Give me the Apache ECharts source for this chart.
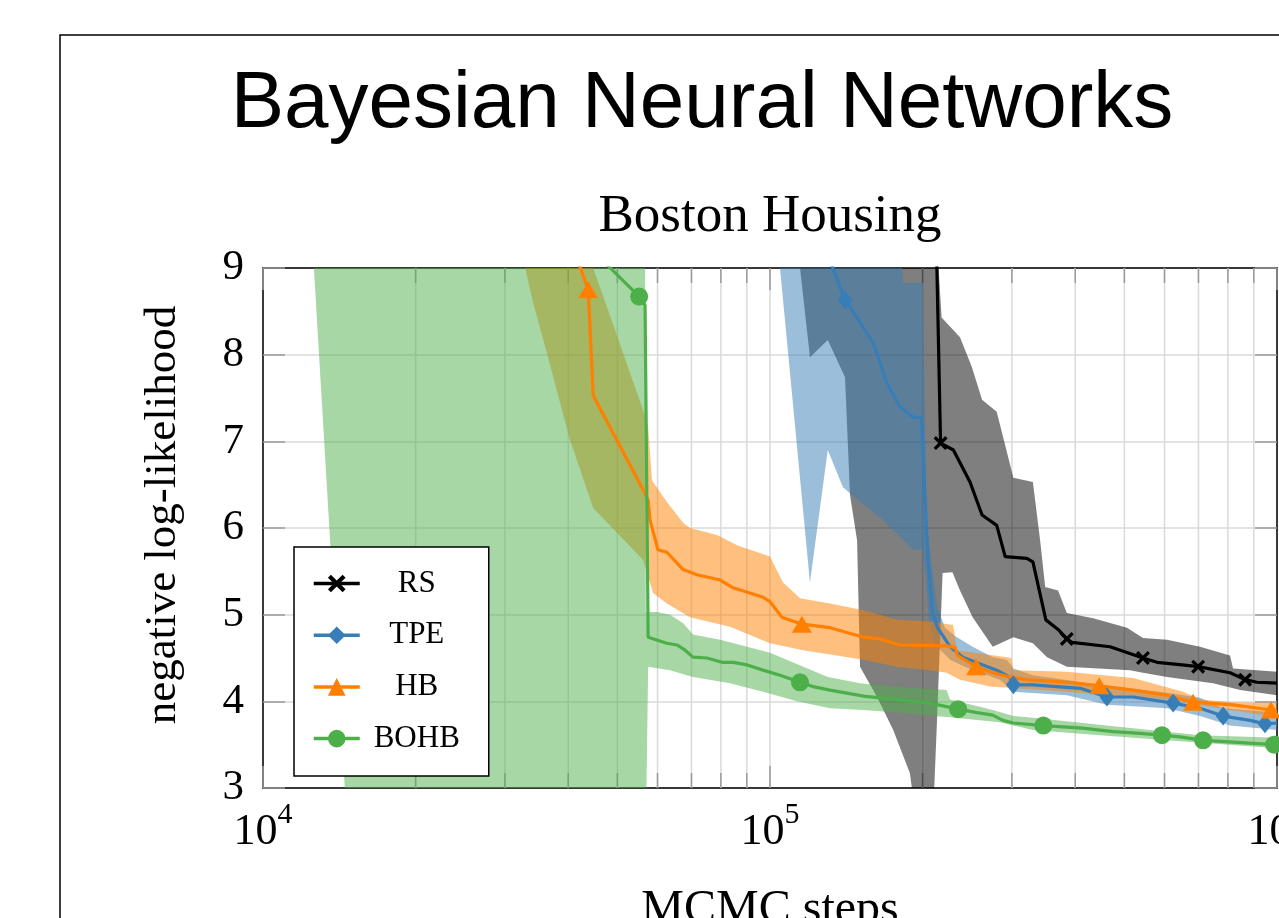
<!DOCTYPE html>
<html>
<head>
<meta charset="utf-8">
<script src="https://cdn.jsdelivr.net/npm/echarts@6/dist/echarts.min.js"></script>
<style>html,body{margin:0;padding:0;background:#fff}#c{width:1279px;height:918px}</style>
</head>
<body>
<div id="c"></div>
<script>
// ---------- data (x = MCMC steps, y = negative log-likelihood) ----------
const seriesNames = ['RS', 'TPE', 'HB', 'BOHB'];
const yTicks = [3, 4, 5, 6, 7, 8, 9];
const minorTicks = [2e4, 3e4, 4e4, 5e4, 6e4, 7e4, 8e4, 9e4, 2e5, 3e5, 4e5, 5e5, 6e5, 7e5, 8e5, 9e5];

const rsLine = [[2.125e5,9.5],[2.17e5,6.98],[2.30e5,6.90],[2.48e5,6.53],[2.62e5,6.15],[2.80e5,6.03],[2.91e5,5.67],[3.21e5,5.65],[3.30e5,5.61],[3.50e5,4.94],[3.70e5,4.83],[3.85e5,4.72],[3.94e5,4.68],[4.685e5,4.63],[5.44e5,4.50],[5.80e5,4.45],[6.50e5,4.42],[6.99e5,4.40],[8.08e5,4.33],[8.65e5,4.25],[9.13e5,4.22],[1e6,4.21]];
const rsMarkers = [1, 11, 14, 17, 19];
const rsUpper = [[1.146e5,9.3],[2.135e5,9.3],[2.18e5,8.43],[2.37e5,8.20],[2.50e5,7.86],[2.62e5,7.48],[2.80e5,7.34],[3.02e5,6.58],[3.30e5,6.53],[3.41e5,5.86],[3.49e5,5.32],[3.70e5,5.28],[3.85e5,5.02],[4.34e5,4.96],[5.06e5,4.85],[5.44e5,4.73],[6.07e5,4.71],[7.05e5,4.63],[8.08e5,4.53],[8.19e5,4.38],[1e6,4.34]];
const rsLower = [[1.146e5,9.0],[1.199e5,7.97],[1.30e5,8.17],[1.406e5,7.74],[1.438e5,6.38],[1.485e5,5.86],[1.505e5,4.40],[1.626e5,4.05],[1.75e5,3.67],[1.888e5,3.17],[1.93e5,2.75],[2.10e5,2.75],[2.135e5,3.78],[2.19e5,5.48],[2.29e5,5.49],[2.37e5,5.28],[2.51e5,4.97],[2.75e5,4.63],[3.02e5,4.74],[3.30e5,4.67],[3.52e5,4.51],[3.85e5,4.40],[5.13e5,4.36],[5.44e5,4.33],[6.07e5,4.28],[7.48e5,4.21],[8.46e5,4.13],[1e6,4.07]];

const tpeLine = [[1.32e5,9.05],[1.406e5,8.63],[1.438e5,8.55],[1.60e5,8.13],[1.70e5,7.67],[1.805e5,7.40],[1.915e5,7.28],[1.99e5,7.27],[2.02e5,6.40],[2.05e5,5.63],[2.09e5,5.05],[2.135e5,4.86],[2.265e5,4.63],[2.40e5,4.51],[2.63e5,4.42],[2.80e5,4.36],[2.97e5,4.28],[3.02e5,4.19],[3.30e5,4.19],[4.09e5,4.15],[4.62e5,4.05],[5.20e5,4.05],[6.24e5,3.98],[7.05e5,3.92],[7.83e5,3.83],[8.85e5,3.78],[9.47e5,3.74],[1e6,3.75]];
const tpeMarkers = [1, 17, 20, 22, 24, 26];
const tpeUpper = [[1.037e5,9.3],[1.805e5,9.3],[1.83e5,8.83],[2.00e5,8.83],[2.04e5,6.0],[2.10e5,5.4],[2.135e5,5.1],[2.214e5,4.85],[2.32e5,4.75],[2.51e5,4.63],[2.75e5,4.51],[2.93e5,4.48],[3.02e5,4.38],[3.30e5,4.30],[4.48e5,4.19],[6.07e5,4.10],[7.05e5,4.04],[7.83e5,3.92],[1e6,3.87]];
const tpeLower = [[1.0465e5,9.0],[1.199e5,5.37],[1.30e5,6.90],[1.393e5,6.47],[1.438e5,6.40],[1.553e5,6.24],[1.67e5,6.09],[1.805e5,5.90],[1.915e5,5.75],[2.00e5,5.75],[2.03e5,5.4],[2.06e5,4.9],[2.12e5,4.65],[2.265e5,4.48],[2.42e5,4.40],[2.84e5,4.25],[3.02e5,4.11],[3.85e5,4.07],[4.62e5,3.96],[6.07e5,3.92],[7.05e5,3.83],[8.08e5,3.72],[1e6,3.67]];

const hbLine = [[4.05e4,9.3],[4.38e4,8.75],[4.48e4,7.53],[5.62e4,6.44],[5.75e4,6.32],[5.80e4,6.09],[6.01e4,5.75],[6.26e4,5.72],[6.74e4,5.52],[7.18e4,5.46],[7.97e4,5.40],[8.46e4,5.31],[9.69e4,5.20],[1.0e5,5.15],[1.056e5,4.97],[1.156e5,4.89],[1.313e5,4.85],[1.53e5,4.74],[1.648e5,4.72],[1.805e5,4.65],[2.23e5,4.64],[2.32e5,4.62],[2.34e5,4.53],[2.55e5,4.40],[2.75e5,4.33],[2.97e5,4.28],[3.21e5,4.25],[3.85e5,4.22],[4.46e5,4.18],[5.20e5,4.13],[6.07e5,4.07],[6.83e5,3.99],[8.19e5,3.96],[9.73e5,3.90],[1e6,3.88]];
const hbMarkers = [1, 15, 23, 28, 31, 33];
const hbUpper = [[3.20e4,9.3],[4.30e4,9.3],[5.62e4,7.36],[5.75e4,7.17],[5.85e4,6.55],[6.26e4,6.30],[6.74e4,6.06],[6.95e4,6.00],[7.86e4,5.92],[8.61e4,5.80],[1.0e5,5.67],[1.061e5,5.37],[1.146e5,5.19],[1.313e5,5.13],[1.53e5,5.05],[1.78e5,4.94],[2.068e5,4.92],[2.296e5,4.88],[2.34e5,4.59],[2.93e5,4.51],[2.99e5,4.50],[3.02e5,4.36],[3.85e5,4.34],[5.20e5,4.27],[6.53e5,4.11],[7.05e5,4.02],[8.19e5,3.99],[1e6,3.98]];
const hbLower = [[3.29e4,9.0],[3.41e4,8.60],[3.63e4,8.02],[4.03e4,7.02],[4.48e4,6.23],[5.62e4,5.63],[5.88e4,5.25],[6.26e4,5.13],[6.95e4,4.97],[8.34e4,4.86],[1.0e5,4.67],[1.162e5,4.59],[1.53e5,4.48],[1.78e5,4.40],[2.068e5,4.36],[2.23e5,4.33],[2.37e5,4.25],[2.716e5,4.17],[3.85e5,4.11],[6.07e5,4.02],[8.08e5,3.90],[1e6,3.82]];

const bohbLine = [[4.30e4,9.3],[5.52e4,8.67],[5.67e4,8.57],[5.75e4,4.74],[6.26e4,4.67],[6.56e4,4.65],[6.80e4,4.59],[7.05e4,4.51],[7.51e4,4.50],[8.04e4,4.45],[8.46e4,4.45],[9.01e4,4.42],[9.69e4,4.36],[1.0465e5,4.30],[1.146e5,4.22],[1.216e5,4.17],[1.313e5,4.13],[1.53e5,4.06],[1.78e5,4.02],[2.068e5,3.98],[2.35e5,3.91],[2.56e5,3.87],[2.75e5,3.84],[2.88e5,3.78],[3.02e5,3.75],[3.46e5,3.72],[4.13e5,3.69],[4.75e5,3.65],[5.37e5,3.63],[5.93e5,3.61],[6.44e5,3.59],[7.15e5,3.55],[8.19e5,3.53],[9.87e5,3.50],[1e6,3.50]];
const bohbMarkers = [1, 14, 20, 25, 29, 31, 33];
const bohbUpper = [[1.249e4,9.3],[5.67e4,9.3],[5.69e4,5.03],[5.99e4,5.03],[6.35e4,5.00],[6.74e4,4.90],[7.05e4,4.77],[7.97e4,4.71],[9.01e4,4.63],[1.0e5,4.56],[1.12e5,4.44],[1.30e5,4.28],[1.505e5,4.21],[1.75e5,4.17],[2.23e5,4.13],[2.265e5,4.02],[2.75e5,3.90],[3.02e5,3.83],[3.30e5,3.81],[4.14e5,3.75],[5.20e5,3.69],[7.05e5,3.61],[1e6,3.58]];
const bohbLower = [[1.26e4,9.0],[1.45e4,3.0],[1.47e4,2.5],[5.69e4,2.5],[5.75e4,4.40],[6.35e4,4.36],[7.05e4,4.28],[8.34e4,4.21],[9.69e4,4.11],[1.13e5,4.00],[1.313e5,3.92],[1.53e5,3.90],[1.78e5,3.87],[2.23e5,3.82],[2.84e5,3.76],[3.30e5,3.67],[4.48e5,3.61],[6.07e5,3.55],[1e6,3.46]];

// ---------- styling ----------
const SERIF = '"Liberation Serif", "Times New Roman", serif';
const SANS = '"Liberation Sans", Arial, sans-serif';
const GRID = '#dadada';
const TICK = '#9a9a9a';
const crossPath = 'path://M0,2 L2,0 L6,4 L10,0 L12,2 L8,6 L12,10 L10,12 L6,8 L2,12 L0,10 L4,6 Z';

function bandSeries(name, upper, lower, color) {
  const poly = upper.concat(lower.slice().reverse());
  return {
    type: 'custom', name: name + ' band', z: 2, clip: true, silent: true,
    data: [poly[0]],
    renderItem: function (params, api) {
      return {
        type: 'polygon',
        shape: { points: poly.map(function (p) { return api.coord(p); }) },
        style: { fill: color }
      };
    }
  };
}

function lineSeries(name, pts, marks, color, symbol, size) {
  return {
    type: 'line', name: name, z: 3, clip: true,
    symbol: symbol, symbolSize: size, showSymbol: true,
    lineStyle: { color: color, width: 3.2 },
    itemStyle: { color: color, opacity: 1 },
    emphasis: { disabled: true },
    data: pts.map(function (p, i) {
      return marks.indexOf(i) >= 0 ? { value: p } : { value: p, symbol: 'none' };
    })
  };
}

const minorGrid = {
  type: 'custom', name: 'minor', z: 1, silent: true,
  data: minorTicks.map(function (v) { return [v, yTicks[0]]; }),
  renderItem: function (params, api) {
    const x = api.value(0);
    const b = api.coord([x, yTicks[0]]);
    const t = api.coord([x, yTicks[yTicks.length - 1]]);
    return {
      type: 'group', children: [
        { type: 'line', shape: { x1: b[0], y1: t[1], x2: b[0], y2: b[1] }, style: { stroke: GRID, lineWidth: 1.5 } },
        { type: 'line', shape: { x1: b[0], y1: b[1], x2: b[0], y2: b[1] - 15 }, style: { stroke: TICK, lineWidth: 1.5 } },
        { type: 'line', shape: { x1: b[0], y1: t[1], x2: b[0], y2: t[1] + 15 }, style: { stroke: TICK, lineWidth: 1.5 } }
      ]
    };
  }
};

const chart = echarts.init(document.getElementById('c'), null, { renderer: 'canvas' });

const axisLine = { show: true, lineStyle: { color: '#000', width: 1.5 } };
const majorTick = { show: true, inside: true, length: 22, lineStyle: { color: TICK, width: 1.5 } };

chart.setOption({
  animation: false,
  backgroundColor: '#fff',
  textStyle: { fontFamily: SERIF },
  grid: { left: 263, top: 268, right: 2, bottom: 130, containLabel: false, outerBoundsMode: 'none' },
  xAxis: [
    {
      type: 'log', logBase: 10, min: 1e4, max: 1e6, position: 'bottom',
      axisLine: axisLine, axisTick: majorTick,
      splitLine: { show: true, lineStyle: { color: GRID, width: 1.5 } },
      minorTick: { show: false }, minorSplitLine: { show: false },
      name: 'MCMC steps', nameLocation: 'middle', nameGap: 98,
      nameTextStyle: { fontFamily: SERIF, fontSize: 48, color: '#000' },
      axisLabel: {
        margin: 12, color: '#000',
        formatter: function (v) { return '{b|10}{s|' + Math.round(Math.log10(v)) + '}'; },
        rich: {
          b: { fontFamily: SERIF, fontSize: 44, lineHeight: 54, verticalAlign: 'bottom', color: '#000' },
          s: { fontFamily: SERIF, fontSize: 30, lineHeight: 26, verticalAlign: 'top', color: '#000' }
        }
      }
    },
    {
      type: 'log', logBase: 10, min: 1e4, max: 1e6, position: 'top',
      axisLine: axisLine, axisTick: majorTick, axisLabel: { show: false }, splitLine: { show: false }
    }
  ],
  yAxis: [
    {
      type: 'value', min: yTicks[0], max: yTicks[yTicks.length - 1], interval: 1, position: 'left',
      axisLine: axisLine, axisTick: majorTick,
      splitLine: { show: true, lineStyle: { color: GRID, width: 1.5 } },
      axisLabel: { margin: 19, color: '#000', fontFamily: SERIF, fontSize: 43 }
    },
    {
      type: 'value', min: yTicks[0], max: yTicks[yTicks.length - 1], interval: 1, position: 'right',
      axisLine: axisLine, axisTick: majorTick, axisLabel: { show: false }, splitLine: { show: false }
    }
  ],
  legend: {
    data: seriesNames, orient: 'vertical', left: 294, top: 547, z: 10,
    padding: [21, 20, 22, 18], itemWidth: 46, itemHeight: 22, itemGap: 20.7,
    backgroundColor: '#fff', borderColor: '#000', borderWidth: 1.5, borderRadius: 0,
    selectedMode: false,
    lineStyle: { width: 3.5 },
    formatter: function (n) { return '{t|' + n + '}'; },
    textStyle: {
      color: '#000', fontFamily: SERIF, fontSize: 31,
      rich: { t: { width: 104, align: 'center', lineHeight: 30, fontFamily: SERIF, fontSize: 31, color: '#000' } }
    }
  },
  graphic: [
    { type: 'rect', silent: true, z: 0, shape: { x: 60, y: 35, width: 1400, height: 1100 }, style: { fill: 'none', stroke: '#000', lineWidth: 1.5 } },
    { type: 'text', silent: true, x: 702, y: 105, style: { text: 'Bayesian Neural Networks', fontFamily: SANS, fontSize: 80, fill: '#000', align: 'center', verticalAlign: 'middle' } },
    { type: 'text', silent: true, x: 770, y: 217, style: { text: 'Boston Housing', fontFamily: SERIF, fontSize: 53, fill: '#000', align: 'center', verticalAlign: 'middle' } },
    { type: 'text', silent: true, x: 163, y: 515, rotation: Math.PI / 2, style: { text: 'negative log-likelihood', fontFamily: SERIF, fontSize: 45, fill: '#000', align: 'center', verticalAlign: 'middle' } }
  ],
  series: [
    minorGrid,
    bandSeries('RS', rsUpper, rsLower, 'rgba(0,0,0,0.5)'),
    bandSeries('TPE', tpeUpper, tpeLower, 'rgba(55,126,184,0.5)'),
    bandSeries('HB', hbUpper, hbLower, 'rgba(255,127,0,0.5)'),
    bandSeries('BOHB', bohbUpper, bohbLower, 'rgba(77,175,74,0.5)'),
    lineSeries('RS', rsLine, rsMarkers, '#000000', crossPath, [14, 14]),
    lineSeries('TPE', tpeLine, tpeMarkers, '#377eb8', 'diamond', [15, 19]),
    lineSeries('HB', hbLine, hbMarkers, '#ff7f00', 'triangle', [20, 17]),
    lineSeries('BOHB', bohbLine, bohbMarkers, '#4daf4a', 'circle', 18)
  ]
});
</script>
</body>
</html>
